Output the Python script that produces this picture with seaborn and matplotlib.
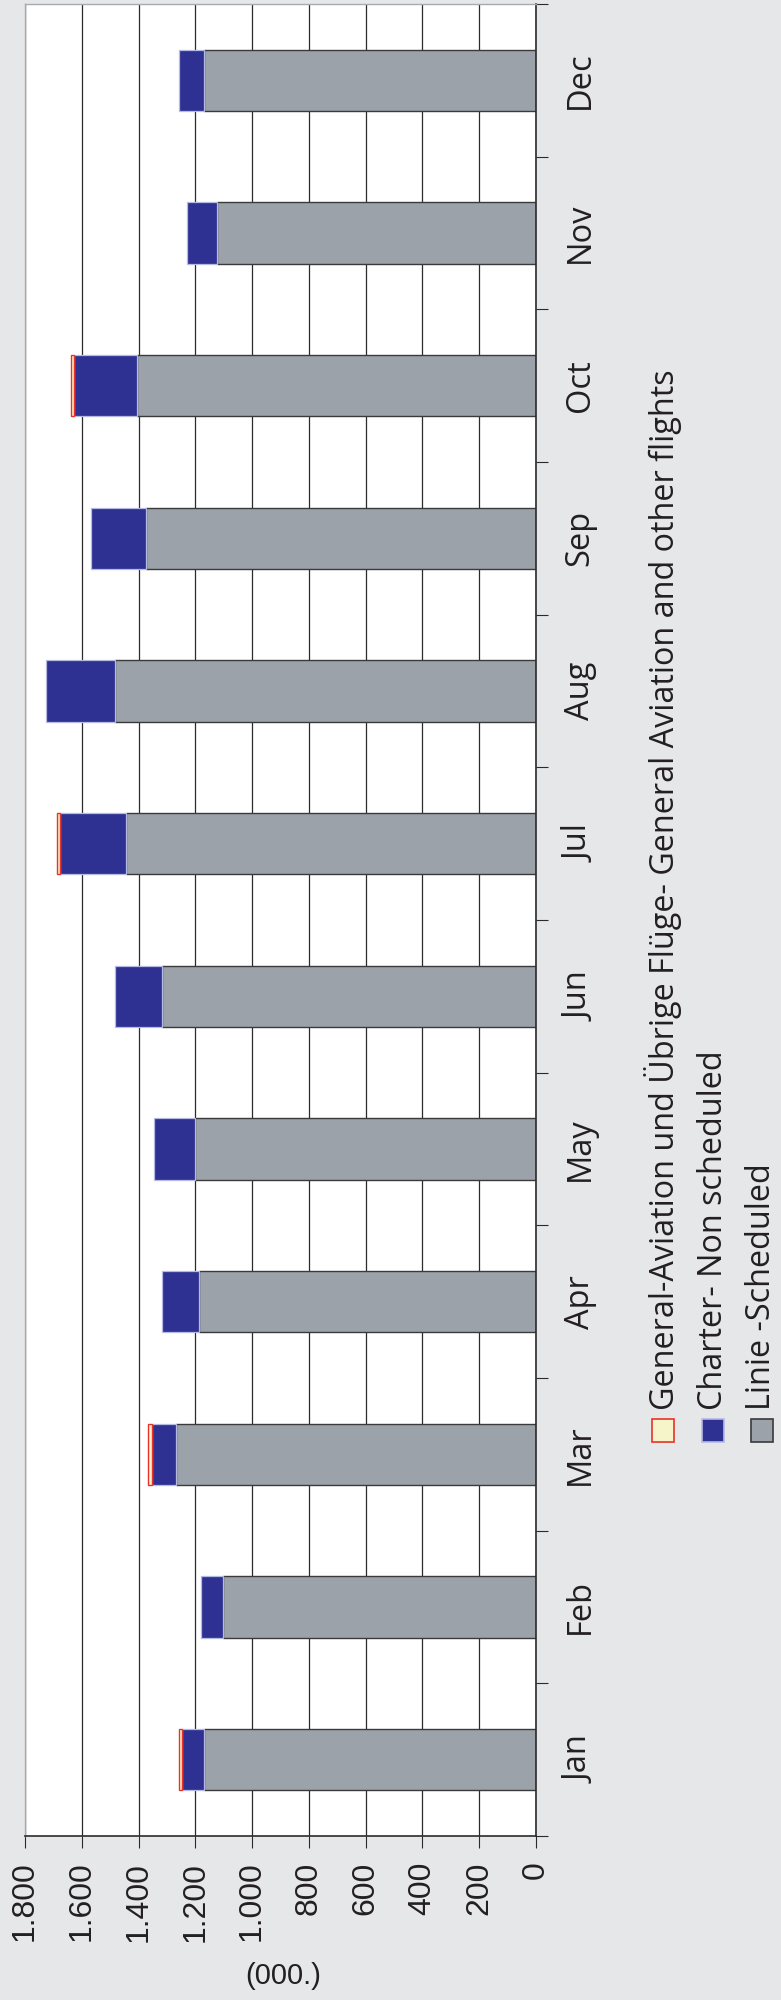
import matplotlib
matplotlib.use("Agg")
import matplotlib.pyplot as plt
from matplotlib.patches import Rectangle
from matplotlib.ticker import FuncFormatter
import seaborn as sns
import pandas as pd
import numpy as np

# Daten (in 1000 Passagieren)
months = ["Jan", "Feb", "Mar", "Apr", "May", "Jun",
          "Jul", "Aug", "Sep", "Oct", "Nov", "Dec"]
linie = [1171, 1101, 1268, 1188, 1200, 1316, 1443, 1483, 1374, 1404, 1122, 1171]
charter = [76, 79, 86, 128, 145, 167, 235, 242, 194, 223, 106, 88]
general = [12, 0, 11, 0, 0, 0, 10, 0, 0, 12, 0, 0]
x_ticks = list(range(0, 1801, 200))
legend_labels = ["General-Aviation und Übrige Flüge- General Aviation and other flights",
                 "Charter- Non scheduled",
                 "Linie -Scheduled"]
unit_label = "(000.)"

# Farben
bg = "#E6E7E9"
gray = "#9BA2A9"
navy = "#2E3192"
ga_face = "#F6F4C9"
red = "#E8322C"
lavender = "#B5BAE3"
dark = "#2B2B2B"
txt = "#231F20"

sns.set_style("white")
plt.rcParams["font.family"] = ["Open Sans", "DejaVu Sans"]

df = pd.DataFrame({"month": months, "linie": linie,
                   "charter": charter, "general": general})
order = months[::-1]
# Position jeder Kategorie auf der seaborn-Achse
df["pos"] = [order.index(m) for m in df["month"]]

W, H = 781, 2000
fig, ax = plt.subplots(figsize=(W / 100, H / 100), dpi=100)
fig.patch.set_facecolor(bg)
ax.set_facecolor("white")
fig.subplots_adjust(left=25 / W, right=536 / W, bottom=1 - 1836 / H, top=1 - 4 / H)

# Linie-Balken mit seaborn, darauf gestapelt Charter und GA
sns.barplot(data=df, x="linie", y="month", order=order, orient="h", width=0.4,
            color=gray, saturation=1, edgecolor="#3A3A3A", linewidth=1.0,
            errorbar=None, ax=ax)
ax.barh(df["pos"], df["charter"], left=df["linie"], height=0.4,
        color=navy, edgecolor=lavender, linewidth=0.9)
ga = df[df["general"] > 0]
ax.barh(ga["pos"], ga["general"], left=ga["linie"] + ga["charter"], height=0.4,
        color=ga_face, edgecolor=red, linewidth=1.0)

ax.set_xlim(1800, 0)
ax.set_ylim(11.5, -0.5)
ax.set_xlabel("")
ax.set_ylabel("")

# x-Achse (Werte)
ax.set_xticks(x_ticks)
ax.xaxis.set_major_formatter(FuncFormatter(lambda v, p: f"{int(v):,}".replace(",", ".")))
ax.tick_params(axis="x", direction="out", length=8.5, width=0.8, color=dark,
               pad=10, labelrotation=90, labelsize=23, labelcolor=txt, bottom=True)
for lab in ax.get_xticklabels():
    lab.set_fontfamily(["Liberation Sans", "DejaVu Sans"])

# y-Achse (Monate) rechts
ax.yaxis.tick_right()
ax.set_yticks(np.arange(-0.5, 12, 1), minor=True)
ax.tick_params(axis="y", which="major", length=0, pad=20, labelsize=23.5,
               labelrotation=90, labelcolor=txt)
ax.tick_params(axis="y", which="minor", direction="out", length=8.5, width=0.8,
               color=dark, right=True, left=False)
for lab in ax.get_yticklabels():
    lab.set_va("center")

ax.grid(axis="x", color=dark, linewidth=0.9)
ax.grid(axis="y", visible=False)
ax.set_axisbelow(True)

for side in ["left", "top"]:
    ax.spines[side].set_color("#A7ABAF")
    ax.spines[side].set_linewidth(1.0)
for side in ["right", "bottom"]:
    ax.spines[side].set_color(dark)
    ax.spines[side].set_linewidth(1.2)

# Einheit
fig.text(283 / W, 1 - 1976 / H, unit_label, ha="center", va="center",
         fontsize=21, color=txt, family=["Liberation Sans", "DejaVu Sans"])

# Legende (gedreht, manuell)
leg_faces = [ga_face, navy, gray]
leg_edges = [red, lavender, "#3A3A3A"]
leg_x = [652, 702, 751]
for label, fc, ec, x0 in zip(legend_labels, leg_faces, leg_edges, leg_x):
    fig.add_artist(Rectangle((x0 / W, 1 - 1442 / H), 22 / W, 23 / H,
                             transform=fig.transFigure, facecolor=fc,
                             edgecolor=ec, linewidth=1.2))
    fig.text((x0 + 11) / W, 1 - 1410 / H, label, rotation=90, ha="center",
             va="bottom", fontsize=23.3, color=txt)

plt.savefig("out.png", dpi=100, facecolor=bg)
